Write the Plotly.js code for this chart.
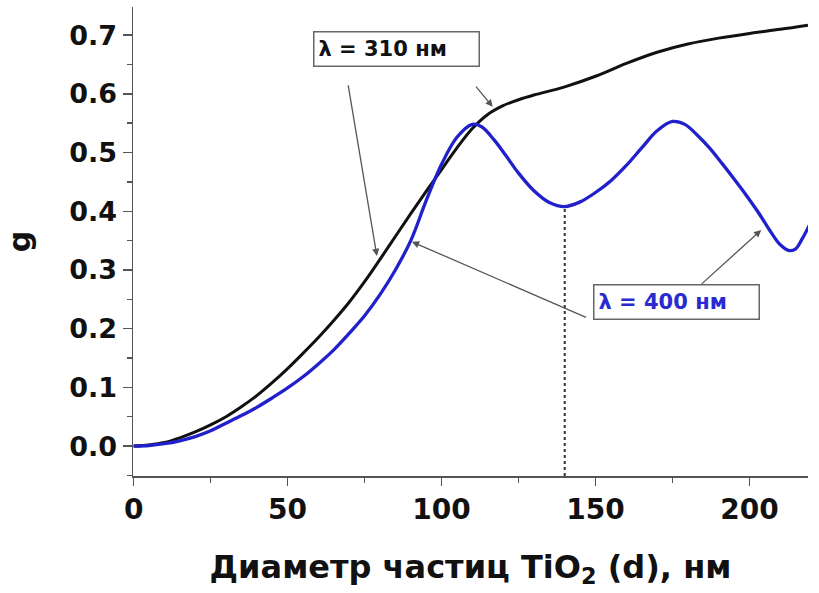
<!DOCTYPE html>
<html>
<head>
<meta charset="utf-8">
<script src="https://cdn.plot.ly/plotly-3.0.1.min.js"></script>
<style>html,body{margin:0;padding:0;background:#fff;}#chart{width:819px;height:593px;}</style>
</head>
<body>
<div id="chart"></div>
<script>
// λ = 310 нм (black curve)
const d310 = [0,5,10,15,20,25,30,35,40,45,50,55,60,65,70,75,80,85,90,95,100,105,110,115,120,125,130,140,150,160,170,180,190,200,210,219];
const g310 = [0,0.002,0.006,0.014,0.024,0.036,0.050,0.067,0.086,0.108,0.132,0.158,0.185,0.214,0.245,0.280,0.318,0.357,0.396,0.434,0.471,0.508,0.541,0.565,0.580,0.590,0.598,0.612,0.630,0.652,0.671,0.685,0.695,0.703,0.710,0.717];
// λ = 400 нм (blue curve)
const d400 = [0,5,10,15,20,25,30,35,40,45,50,55,60,65,70,75,80,85,90,95,100,105,110,113,117,121,125,130,135,140,145,150,155,160,165,170,175,179,183,187,191,195,199,203,207,210,213,215,217,219.5];
const g400 = [0,0.001,0.004,0.009,0.016,0.026,0.039,0.052,0.066,0.082,0.099,0.118,0.140,0.164,0.192,0.222,0.258,0.300,0.350,0.418,0.480,0.526,0.548,0.544,0.522,0.494,0.465,0.435,0.415,0.408,0.416,0.432,0.452,0.478,0.508,0.537,0.553,0.548,0.530,0.508,0.482,0.455,0.427,0.397,0.364,0.343,0.333,0.336,0.352,0.377];
const label310 = "λ = 310 нм";
const label400 = "λ = 400 нм";
const xTitle = "Диаметр частиц TiO<sub>2</sub> (d), нм";
const yTitle = "g";
const markerD = 140;   // vertical dotted marker at the blue minimum
const markerG = 0.408;

const FONT = "DejaVu Sans, Arial, sans-serif";
const traces = [
  {x:d310, y:g310, mode:'lines', line:{color:'#111111', width:3, shape:'spline', smoothing:1}, hoverinfo:'skip'},
  {x:d400, y:g400, mode:'lines', line:{color:'#2020cc', width:3.3, shape:'spline', smoothing:1}, hoverinfo:'skip'}
];
const arrowCommon = {text:'', showarrow:true, arrowhead:2, arrowsize:1.1, arrowwidth:1.3, arrowcolor:'#555', axref:'x', ayref:'y', xref:'x', yref:'y'};
const layout = {
  width:819, height:593,
  margin:{l:133, r:11, t:7, b:117},
  paper_bgcolor:'#fff', plot_bgcolor:'#fff',
  showlegend:false,
  xaxis:{
    range:[-0.2,219], showgrid:false, zeroline:false,
    showline:true, linecolor:'#555', linewidth:1.5,
    ticks:'outside', ticklen:8, tickwidth:1.5, tickcolor:'#555',
    dtick:50, tick0:0,
    minor:{dtick:25, ticks:'outside', ticklen:5, tickwidth:1.5, tickcolor:'#555'},
    tickfont:{family:FONT, size:28, color:'#111', weight:'bold'},
    title:{text:xTitle, font:{family:FONT, size:32, color:'#111', weight:'bold'}, standoff:30}
  },
  yaxis:{
    range:[-0.051,0.748], showgrid:false, zeroline:false,
    showline:true, linecolor:'#555', linewidth:1.5,
    ticks:'outside', ticklen:9, tickwidth:1.5, tickcolor:'#555',
    dtick:0.1, tick0:0, tickformat:'.1f',
    minor:{dtick:0.05, ticks:'outside', ticklen:5, tickwidth:1.5, tickcolor:'#555'},
    tickfont:{family:FONT, size:27, color:'#111', weight:'bold'},
    title:{text:yTitle, font:{family:FONT, size:30, color:'#111', weight:'bold'}, standoff:30}
  },
  shapes:[
    {type:'line', xref:'x', yref:'y', x0:markerD, x1:markerD, y0:-0.051, y1:markerG, line:{color:'#333', width:2, dash:'dot'}}
  ],
  annotations:[
    Object.assign({}, arrowCommon, {x:79.0, y:0.324, ax:69.6, ay:0.617}),
    Object.assign({}, arrowCommon, {x:116.6, y:0.578, ax:110.8, ay:0.615}),
    Object.assign({}, arrowCommon, {x:90.4, y:0.348, ax:147.4, ay:0.218}),
    Object.assign({}, arrowCommon, {x:203.8, y:0.368, ax:184, ay:0.274}),
    {x:85.4, y:0.676, xref:'x', yref:'y', text:label310, showarrow:false, width:156, height:25, align:'left',
     bordercolor:'#666', borderwidth:1.5, borderpad:4, bgcolor:'#fff',
     font:{family:FONT, size:21, color:'#111', weight:'bold'}},
    {x:176.4, y:0.246, xref:'x', yref:'y', text:label400, showarrow:false, width:156, height:25, align:'left',
     bordercolor:'#666', borderwidth:1.5, borderpad:4, bgcolor:'#fff',
     font:{family:FONT, size:21, color:'#2a2ad0', weight:'bold'}}
  ]
};
Plotly.newPlot('chart', traces, layout, {staticPlot:true, displayModeBar:false});
</script>
</body>
</html>
